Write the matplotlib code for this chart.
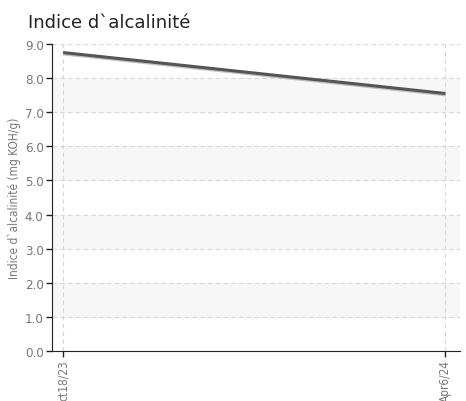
import matplotlib.pyplot as plt
import matplotlib.patheffects as pe

# data
dates = ["ct18/23", "Apr6/24"]
values = [8.75, 7.55]
y_ticks = [0, 1, 2, 3, 4, 5, 6, 7, 8, 9]

plt.rcParams['font.family'] = ['DejaVu Sans']
plt.rcParams['font.stretch'] = 'condensed'

fig = plt.figure(figsize=(4.66, 4.02), dpi=100)
ax = fig.add_axes([0.1116, 0.1244, 0.876, 0.7636])

x_pos = [i for i, _ in enumerate(dates)]

# alternating bands
for lo in range(1, 9, 2):
    ax.axhspan(lo, lo + 1, color='#f7f7f7', zorder=0)

ax.plot(x_pos, values, color='#555555', linewidth=2.2, solid_capstyle='butt',
        path_effects=[pe.SimpleLineShadow(offset=(0.5, -1), shadow_color='#999999', alpha=0.6),
                      pe.Normal()], zorder=3)

ax.set_xlim(-0.029, 1.039)
ax.set_ylim(0, 9)
ax.set_yticks(y_ticks)
ax.set_yticklabels(["%.1f" % v for v in y_ticks])
ax.set_xticks(x_pos)
ax.set_xticklabels(dates, rotation=90)

ax.grid(which='major', linestyle=(0, (4, 3)), linewidth=0.8, color='#d8d8d8')
ax.set_axisbelow(True)

for s in ['top', 'right']:
    ax.spines[s].set_visible(False)
ax.spines['left'].set_color('#222222')
ax.spines['bottom'].set_color('#222222')
ax.tick_params(axis='both', colors='#222222', labelcolor='#777777', length=4, width=1, pad=2)
ax.tick_params(axis='y', labelsize=9.5)
ax.tick_params(axis='x', labelsize=8.5)

ax.set_ylabel("Indice d`alcalinité (mg KOH/g)", color='#777777', fontsize=8.5, labelpad=3)
fig.text(0.06, 0.943, "Indice d`alcalinité", fontsize=13, color='#222222', va='center', stretch='normal')

fig.savefig("out.png", dpi=100)
